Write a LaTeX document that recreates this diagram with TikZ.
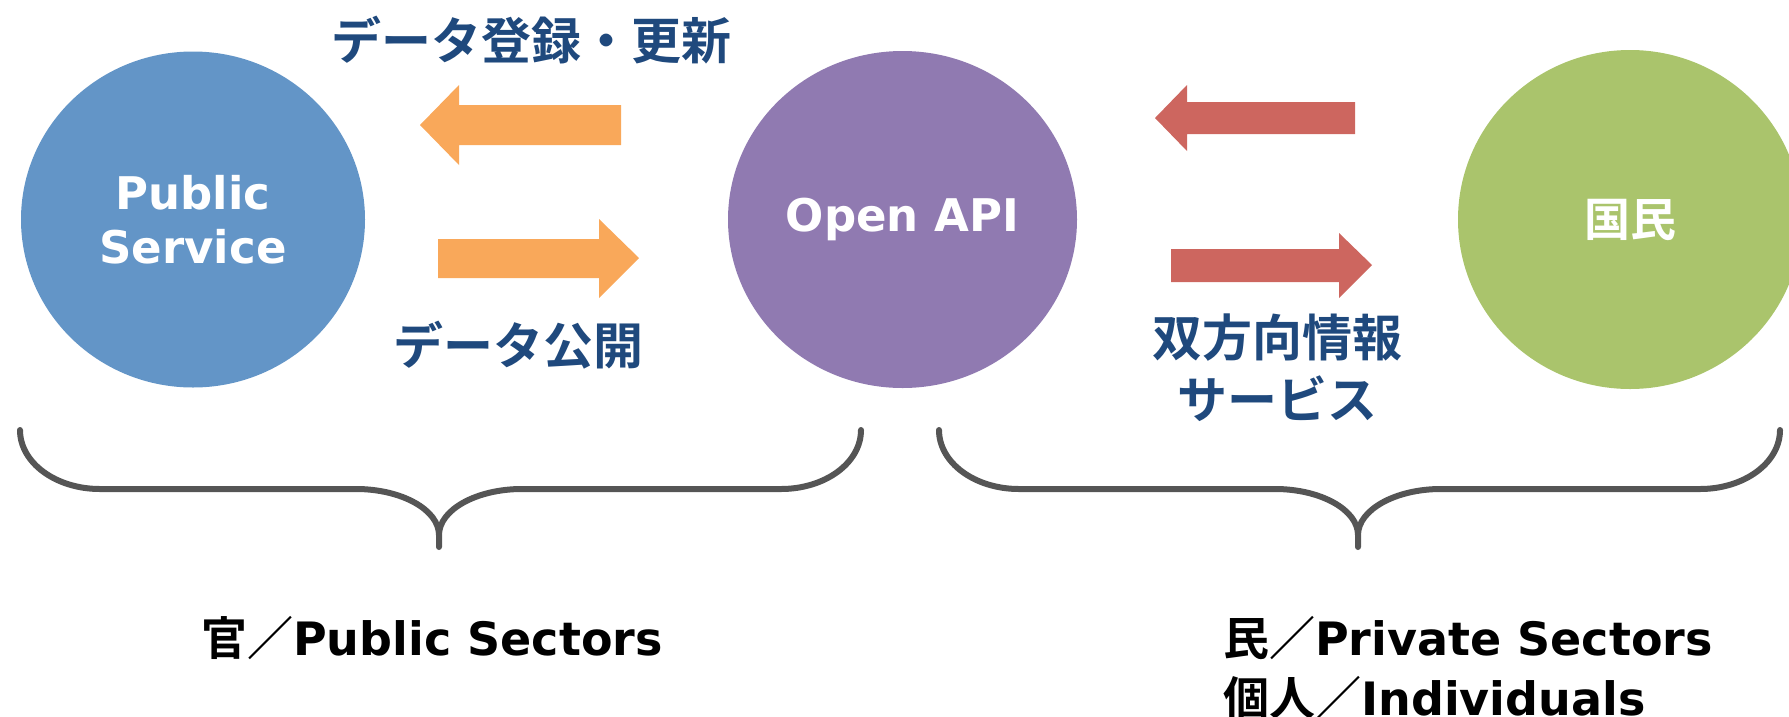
\documentclass[tikz,border=0pt]{standalone}
\usepackage{fontspec}
\setmainfont{DejaVu Sans}
\newfontfamily\jpb{Noto Sans CJK JP Bold}
\usetikzlibrary{shapes.geometric}
\definecolor{cblue}{HTML}{6395C7}
\definecolor{cpurple}{HTML}{907AB1}
\definecolor{cgreen}{HTML}{AAC46C}
\definecolor{corange}{HTML}{F9A85A}
\definecolor{cred}{HTML}{CD665F}
\definecolor{cnavy}{HTML}{1F497D}
\definecolor{cbrace}{HTML}{555555}
\tikzset{
  circ/.style={ellipse, inner sep=0pt, text=white, font=\bfseries\fontsize{45}{54}\selectfont, align=center},
  lbl/.style={inner sep=0pt, text=cnavy, font=\jpb\fontsize{50}{62}\selectfont, align=center},
  sect/.style={inner sep=0pt, text=black, font=\fontsize{46}{60}\selectfont},
  bracestyle/.style={draw=cbrace, line width=6pt, line cap=round, line join=round},
  sectorbrace/.pic={
    \draw[bracestyle] (20,430) .. controls (20,463) and (56,489) .. (100,489)
      -- (356,489) .. controls (402,489) and (439,510) .. (439,535) -- (439,547)
      -- (439,535) .. controls (439,510) and (476,489) .. (522,489)
      -- (781,489) .. controls (825,489) and (861,463) .. (861,430);
  }
}
\begin{document}
\begin{tikzpicture}[x=1pt,y=-1pt]
\useasboundingbox (0,0) rectangle (1789,716);
\clip (0,0) rectangle (1789,716);
% ellipses
\node[circ, fill=cblue, minimum width=344pt, minimum height=336pt] (pub) at (193,219.5) {Public\\Service};
\node[circ, fill=cpurple, minimum width=349pt, minimum height=337pt] (api) at (902.5,219.5) {Open API};
\node[circ, fill=cgreen, minimum width=344pt, minimum height=339pt, font=\jpb\fontsize{46}{54}\selectfont] (kok) at (1630,219.5) {国民};
% orange arrows
\fill[corange] (420,125) -- (459,85) -- (459,105) -- (621,105) -- (621,145) -- (459,145) -- (459,165) -- cycle;
\fill[corange] (639,258) -- (599,219) -- (599,239) -- (438,239) -- (438,278) -- (599,278) -- (599,298) -- cycle;
% red arrows
\fill[cred] (1155,118) -- (1187,85) -- (1187,102) -- (1355,102) -- (1355,134) -- (1187,134) -- (1187,151) -- cycle;
\fill[cred] (1372,265) -- (1339,233) -- (1339,249) -- (1171,249) -- (1171,282) -- (1339,282) -- (1339,298) -- cycle;
% labels
\node[lbl] (upd) at (531,40) {データ登録・更新};
\node[lbl] (pubd) at (518,345) {データ公開};
\node[lbl] (bidir) at (1277,368) {双方向情報\\サービス};
% braces
\pic at (0,0) {sectorbrace};
\pic at (919,0) {sectorbrace};
% sector labels
\node[sect, anchor=base] (gov) at (432,655) {{\jpb 官／}\bfseries Public Sectors};
\node[sect, anchor=base west] (priv) at (1223,655) {{\jpb 民／}\bfseries Private Sectors};
\node[sect, anchor=base west] (indiv) at (1223,715) {{\jpb 個人／}\bfseries Individuals};
\end{tikzpicture}
\end{document}
